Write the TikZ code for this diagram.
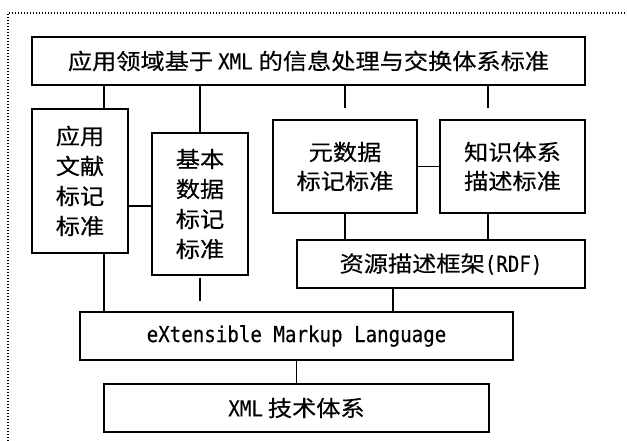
\documentclass[tikz,border=0pt]{standalone}
\usepackage{fontspec}
\newfontfamily\cj[FakeStretch=1.1,FakeBold=0.4]{Noto Sans CJK SC}
\newfontfamily\mn[FakeStretch=0.87,FakeBold=0.3]{DejaVu Sans Mono}
\tikzset{
  box/.style={draw,line width=1.1pt,inner sep=0pt,align=center,
    font=\cj\fontsize{22}{30}\selectfont},
  conn/.style={line width=1.1pt},
  frame/.style={line width=1.1pt,dash pattern=on 1pt off 2pt}
}
\begin{document}
\begin{tikzpicture}[x=1pt,y=-1pt]
\useasboundingbox (0,0) rectangle (627,441);
\coordinate (fb) at (8,441);
\coordinate (fc) at (8,13);
\coordinate (fr) at (626,13);
\draw[frame] (fb) -- (fc) -- (fr);

\node[box,minimum width=553pt,minimum height=48pt] (top) at (308.5,61)
  {应用领域基于\hspace{5pt}{\mn XML}\hspace{6pt}的信息处理与交换体系标准};
\node[box,minimum width=96pt,minimum height=144pt] (A) at (80,181)
  {应用\\文献\\标记\\标准};
\node[box,minimum width=96pt,minimum height=142pt] (B) at (200,204)
  {基本\\数据\\标记\\标准};
\node[box,minimum width=144pt,minimum height=93pt,font=\cj\fontsize{22}{29}\selectfont] (C) at (345,166.5)
  {元数据\\标记标准};
\node[box,minimum width=145pt,minimum height=93pt,font=\cj\fontsize{22}{29}\selectfont] (D) at (512.5,166.5)
  {知识体系\\描述标准};
\node[box,minimum width=288pt,minimum height=48pt] (R) at (441,264)
  {资源描述框架{\mn(RDF)}};
\node[box,minimum width=433pt,minimum height=48pt] (X) at (296.5,336)
  {\mn eXtensible Markup Language};
\node[box,minimum width=385pt,minimum height=48pt] (T) at (296.5,408)
  {{\mn XML}\hspace{5pt}技术体系};

% top box to the four boxes
\draw[conn] ([xshift=24pt]A.north) -- ([xshift=24pt]A.north |- top.south);
\draw[conn] (B.north) -- (B.north |- top.south);
\coordinate (ce) at ([yshift=11pt]C.north);
\coordinate (de) at ([xshift=-24.5pt,yshift=11pt]D.north);
\draw[conn] (top.south -| ce) -- (ce);
\draw[conn] (top.south -| de) -- (de);
% horizontal links
\draw[conn] ([yshift=-25pt]A.east) -- ([yshift=-25pt]A.east -| B.west);
\draw[conn] (C.east) -- (D.west);
% to RDF
\draw[conn] (C.south) -- (C.south |- R.north);
\draw[conn] ([xshift=-24.5pt]D.south) -- ([xshift=-24.5pt]D.south |- R.north);
% to XML language box
\draw[conn] ([xshift=24pt]A.south) -- ([xshift=24pt]A.south |- X.north);
\coordinate (bs) at ([yshift=-2pt]B.south);
\coordinate (be) at ([yshift=10pt]B.south |- X.north);
\draw[conn] (bs) -- (be);
\draw[conn] ([xshift=-48pt]R.south) -- ([xshift=-48pt]R.south |- X.north);
\draw[conn] (X.south) -- (T.north);
\end{tikzpicture}
\end{document}
